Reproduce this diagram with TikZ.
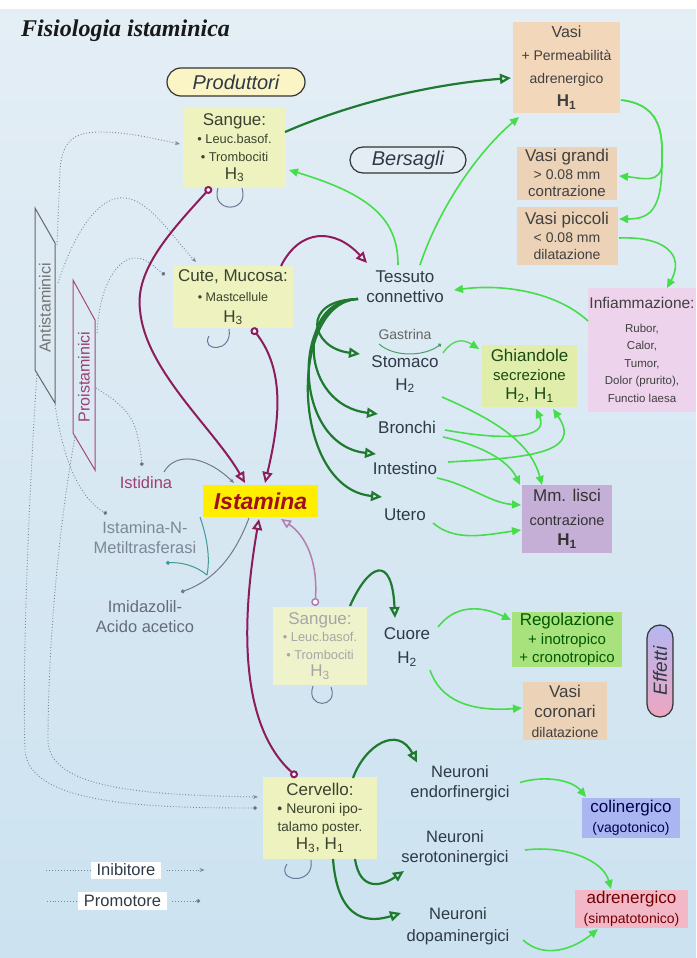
\documentclass[tikz,border=0pt]{standalone}
\usepackage{fontspec}
\setmainfont{Liberation Sans}
\newfontfamily\titlefont{Liberation Serif}
\usetikzlibrary{arrows.meta,shapes.misc,calc}
\newcommand{\myfs}[2]{\fontsize{#1}{#2}\selectfont}
\definecolor{bgtop}{HTML}{E4EEF5}
\definecolor{bgbot}{HTML}{CCE2F0}
\definecolor{boxyel}{HTML}{EDF2BE}
\definecolor{boxyelB}{HTML}{EEF3CC}
\definecolor{peach}{HTML}{F3D7BA}
\definecolor{peachB}{HTML}{ECD3B7}
\definecolor{lav}{HTML}{EDD3EC}
\definecolor{ghiyel}{HTML}{E1EEAB}
\definecolor{mmpur}{HTML}{C6AFD6}
\definecolor{regg}{HTML}{A8E27C}
\definecolor{colb}{HTML}{A9B6F2}
\definecolor{adrp}{HTML}{F2B8C7}
\definecolor{istyel}{HTML}{FFEE00}
\definecolor{istred}{HTML}{A0101C}
\definecolor{pillyel}{HTML}{FBF5C6}
\definecolor{pillbl}{HTML}{E4EDF3}
\definecolor{dkgreen}{HTML}{1F7A30}
\definecolor{ltgreen}{HTML}{45DE4A}
\definecolor{purp}{HTML}{8C1C5C}
\definecolor{purpl}{HTML}{B57CB0}
\definecolor{dotg}{HTML}{7C8898}
\definecolor{loopc}{HTML}{6A7898}
\definecolor{txtc}{HTML}{2E3A46}
\definecolor{olivec}{HTML}{3A4230}
\definecolor{tealc}{HTML}{3F9A98}
\definecolor{effb}{HTML}{B6B6F0}
\definecolor{effp}{HTML}{EEA6C0}
\begin{document}
\begin{tikzpicture}[x=1pt,y=-1pt,
  boxn/.style={align=center, inner sep=0pt},
  lbl/.style={align=center, inner sep=0pt, text=txtc},
  pill/.style={draw=black!80, line width=1.2pt, rounded rectangle, inner sep=0pt, text=txtc},
  dg/.style={draw=dkgreen, line width=2.2pt, -{Triangle[open,length=11pt,width=10pt]}},
  pu/.style={draw=purp, line width=2pt, {Circle[length=8pt,fill=white]}-{Triangle[open,length=11pt,width=10pt]}},
  lg/.style={draw=ltgreen, line width=1.6pt, -{Triangle[length=9pt,width=8pt]}},
  inib/.style={draw=dotg, line width=0.9pt, dotted, -{Stealth[length=5pt,width=4pt]}},
  prom/.style={draw=dotg, line width=0.9pt, dotted, -{Circle[length=4pt,fill=dotg!50!black]}},
  dotl/.style={draw=dotg, line width=0.9pt, dotted},
  loopst/.style={draw=loopc, line width=1pt},
  grayl/.style={draw=dotg!90!black, line width=1pt}
]
\useasboundingbox (0,0) rectangle (696,958);
\shade[top color=bgtop, bottom color=bgbot] (0,0) rectangle (696,958);
\fill[white] (0,0) rectangle (696,9);

% title
\node[anchor=base west, inner sep=0pt, font=\titlefont\bfseries\itshape\myfs{24}{26}, text=black!90] (title) at (21,37) {Fisiologia istaminica};

% pills
\node[pill, fill=pillyel, minimum width=138pt, minimum height=28pt, font=\itshape\myfs{20}{22}] (prod) at (236,82) {Produttori};
\node[pill, fill=pillbl, minimum width=116pt, minimum height=26pt, font=\itshape\myfs{20}{22}] (bers) at (408,160) {Bersagli};
\node[pill, rotate=90, minimum width=92pt, minimum height=26pt, top color=effb, bottom color=effp, font=\itshape\myfs{19}{21}] (eff) at (660,671) {Effetti};

% producer boxes
\node[boxn, fill=boxyel, minimum width=103pt, minimum height=79pt, text=olivec, font=\myfs{12.8}{18}] (sangue) at (234.5,147.5)
 {{\myfs{17}{18}Sangue:}\\ • Leuc.basof.\\ • Trombociti\\ {\myfs{17}{18}H\textsubscript{3}}};
\node[boxn, fill=boxyel, minimum width=120pt, minimum height=62pt, text=olivec, font=\myfs{12.5}{20.5}] (cute) at (233,297)
 {{\myfs{17}{18}Cute, Mucosa:}\\ • Mastcellule\\ {\myfs{17}{18}H\textsubscript{3}}};
\node[boxn, fill=boxyelB, minimum width=94pt, minimum height=78pt, text=black!35, font=\myfs{12.8}{17.5}] (sangueB) at (320,646)
 {{\myfs{17}{18}Sangue:}\\ • Leuc.basof.\\ • Trombociti\\ {\myfs{17}{18}H\textsubscript{3}}};
\node[boxn, fill=boxyel, minimum width=114pt, minimum height=82pt, text=olivec, font=\myfs{14}{18}] (cerv) at (320,818)
 {{\myfs{17}{18}Cervello:}\\ • Neuroni ipo-\\ {\myfs{13.5}{18}talamo poster.}\\ {\myfs{17}{18}H\textsubscript{3}, H\textsubscript{1}}};

% Istamina
\node[fill=istyel, minimum width=115pt, minimum height=32pt, inner sep=0pt, font=\bfseries\itshape\myfs{23}{25}, text=istred] (ist) at (260.5,501) {Istamina};

% target/effect boxes
\node[boxn, fill=peach, minimum width=107pt, minimum height=91pt, text=black!75, font=\myfs{14}{23}] (vasi) at (566.5,67.5)
 {{\myfs{16}{18}Vasi}\\ + Permeabilità\\ adrenergico\\ {\bfseries\myfs{17}{18}H\textsubscript{1}}};
\node[boxn, fill=peachB, minimum width=100pt, minimum height=53pt, text=black!75, font=\myfs{14}{17.5}] (vgr) at (567,173)
 {{\myfs{17}{18}Vasi grandi}\\ \textgreater{} 0.08 mm\\ {\myfs{15}{17}contrazione}};
\node[boxn, fill=peachB, minimum width=101pt, minimum height=58pt, text=black!75, font=\myfs{14}{17.5}] (vpi) at (567,236)
 {{\myfs{17}{18}Vasi piccoli}\\ \textless{} 0.08 mm\\ dilatazione};
\node[boxn, fill=lav, minimum width=108pt, minimum height=124pt, text=black!75, font=\myfs{11.5}{17.5}] (infl) at (642,350)
 {{\myfs{15.5}{17}Infiammazione:}\\[6pt] Rubor,\\ Calor,\\ Tumor,\\ Dolor (prurito),\\ Functio laesa};
\node[boxn, fill=ghiyel, minimum width=95pt, minimum height=62pt, text=olivec!70!green!60!black, font=\myfs{15}{19}] (ghi) at (529.5,376)
 {{\myfs{17}{18}Ghiandole}\\ secrezione\\ {\myfs{17}{18}H\textsubscript{2}, H\textsubscript{1}}};
\node[boxn, fill=mmpur, minimum width=90pt, minimum height=68pt, text=black!80, font=\myfs{14.5}{20}] (mml) at (567,519)
 {{\myfs{17}{18}Mm. lisci}\\[4pt] contrazione\\ {\bfseries\myfs{17}{18}H\textsubscript{1}}};
\node[boxn, fill=regg, minimum width=110pt, minimum height=55pt, text=green!35!black, font=\myfs{15}{18.5}] (reg) at (567,639.5)
 {{\myfs{17}{18}Regolazione}\\ + inotropico\\ + cronotropico};
\node[boxn, fill=peachB, minimum width=84pt, minimum height=58pt, text=black!75, font=\myfs{17}{20}] (vcor) at (565,711)
 {Vasi\\ coronari\\ {\myfs{14}{16}dilatazione}};
\node[boxn, fill=colb, minimum width=98pt, minimum height=40pt, text=blue!30!black, font=\myfs{14}{20}] (col) at (631,818)
 {{\myfs{17}{18}colinergico}\\ (vagotonico)};
\node[boxn, fill=adrp, minimum width=113pt, minimum height=38pt, text=red!45!black, font=\myfs{14}{20}] (adr) at (631.5,909)
 {{\myfs{17}{18}adrenergico}\\ (simpatotonico)};

% text labels
\node[lbl, font=\myfs{17}{20}] (tess) at (405,287) {Tessuto\\ connettivo};
\node[lbl, font=\myfs{14}{16}, text=black!60] (gast) at (405,334) {Gastrina};
\node[lbl, font=\myfs{17}{23}] (stom) at (405,374) {Stomaco\\ H\textsubscript{2}};
\node[lbl, font=\myfs{17}{20}] (bron) at (407,427) {Bronchi};
\node[lbl, font=\myfs{17}{20}] (inte) at (405,468) {Intestino};
\node[lbl, font=\myfs{17}{20}] (uter) at (405,515) {Utero};
\node[lbl, font=\myfs{17}{24}] (cuore) at (407,647) {Cuore\\ H\textsubscript{2}};
\node[lbl, font=\myfs{16.5}{20}] (nend) at (460,783.5) {Neuroni\\ endorfinergici};
\node[lbl, font=\myfs{16.5}{20}] (nser) at (455,848) {Neuroni\\ serotoninergici};
\node[lbl, font=\myfs{16.5}{22}] (ndop) at (458,926) {Neuroni\\ dopaminergici};
\node[lbl, font=\myfs{16.5}{20}, text=purp!85!white] (istid) at (146,483) {Istidina};
\node[lbl, font=\myfs{16.5}{20}, text=dotg] (metil) at (145,538) {Istamina-N-\\ Metiltrasferasi};
\node[lbl, font=\myfs{16.5}{20}, text=dotg!80!black] (imid) at (145,617) {Imidazolil-\\ Acido acetico};

% antistaminici / proistaminici
\draw[draw=black!60, line width=1pt] (35,208) -- (55,243) -- (55,403) -- (35,370) -- cycle;
\node[rotate=90, inner sep=0pt, text=black!55, font=\myfs{16}{18}] (anti) at (45,308) {Antistaminici};
\draw[draw=purp!80, line width=1pt] (73,280) -- (95,320) -- (95,470) -- (73,433) -- cycle;
\node[rotate=90, inner sep=0pt, text=purp!85, font=\myfs{16}{18}] (pro) at (84,377) {Proistaminici};

% legend
\node[fill=white, inner xsep=6pt, inner ysep=1pt, minimum height=17pt, text=txtc, font=\myfs{16.5}{18}] (legI) at (126,870) {Inibitore};
\node[fill=white, inner xsep=6pt, inner ysep=1pt, minimum height=18pt, text=txtc, font=\myfs{16.5}{18}] (legP) at (122.5,901) {Promotore};
\draw[dotl] ($(legI.west)+(-44,0)$) -- (legI.west);
\draw[inib] ($(legI.east)+(5,0)$) -- ($(legI.east)+(43,0)$);
\draw[dotl] ($(legP.west)+(-31,0)$) -- (legP.west);
\draw[prom] ($(legP.east)+(5,0)$) -- ($(legP.east)+(33,0)$);

% dotted regulator lines
\draw[inib] ($(anti)+(12,-63)$) -- (60,170) .. controls (62,140) and (75,132) .. (100,132) .. controls (130,132) and (160,140) .. ($(sangue)+(-54.5,-3.5)$);
\draw[inib] ($(anti)+(13,-25)$) .. controls (75,230) and (100,195) .. (125,198) .. controls (150,200) and (175,240) .. ($(cute)+(-37,-35)$);
\draw[prom] ($(pro)+(13,-44)$) .. controls (100,280) and (120,258) .. (135,258) .. controls (148,258) and (155,268) .. ($(cute)+(-68,-22)$);
\draw[prom] ($(pro)+(12,11)$) .. controls (115,400) and (130,410) .. (136,430) .. controls (140,445) and (141,455) .. ($(istid)+(-4,-17)$);
\draw[prom] ($(anti)+(10,97)$) .. controls (62,450) and (75,495) .. ($(metil)+(-38,-24)$);
\draw[inib] ($(pro)+(-9,60)$) .. controls (58,530) and (48,650) .. (48,740) .. controls (48,790) and (150,795) .. ($(cerv)+(-62,-21)$);
\draw[prom] ($(anti)+(-8,64)$) .. controls (30,480) and (22,650) .. (25,750) .. controls (28,805) and (150,808) .. ($(cerv)+(-63,-10)$);

% metabolism lines
\draw[grayl, -{Stealth[length=5pt,width=4pt]}] ($(istid)+(18,-11)$) .. controls (175,452) and (205,455) .. ($(ist)+(-26.5,-18)$);
\draw[grayl, -{Circle[length=4pt]}] ($(ist)+(-11.5,17)$) .. controls (235,555) and (215,580) .. ($(imid)+(36,-25)$);
\draw[draw=tealc, line width=1pt] ($(metil)+(55,-21)$) .. controls (208,540) and (210,560) .. ($(metil)+(62,37)$);
\draw[draw=tealc, line width=1pt, -{Circle[length=4pt]}] ($(metil)+(62,37)$) .. controls (195,565) and (180,562) .. ($(metil)+(21,25)$);
\draw[draw=loopc!70!green, line width=1pt, -{Circle[length=3.5pt]}] ($(gast)+(-26,10)$) .. controls (395,358) and (425,356) .. ($(gast)+(36,10)$);
\draw[lg, line width=1.3pt] ($(gast)+(38,19)$) .. controls (452,340) and (462,338) .. ($(ghi)+(-50.5,-27)$);

% self loops
\draw[loopst] ($(sangue)+(-16.5,40.5)$) .. controls (210,213) and (250,214) .. ($(sangue)+(7.5,40.5)$);
\draw[loopst] ($(cute)+(-4,32)$) .. controls (233,353) and (200,352) .. ($(cute)+(-24,39)$);
\draw[loopst] ($(sangueB)+(-7,40)$) .. controls (305,709) and (339,709) .. ($(sangueB)+(11,41)$);
\draw[loopst] ($(cerv)+(-9,42)$) .. controls (315,886) and (275,882) .. ($(cerv)+(-33,46)$);

% purple lines
\draw[pu] ($(sangue)+(-23.5,39.5)$) .. controls (170,232) and (135,270) .. (140,310) .. controls (145,370) and (215,430) .. ($(ist)+(-15.5,-18)$);
\draw[pu] ($(cute)+(19,31)$) .. controls (285,370) and (280,420) .. ($(ist)+(4.5,-18)$);
\draw[draw=purp, line width=2pt, -{Triangle[open,length=11pt,width=10pt]}] ($(cute)+(48,-31)$) .. controls (300,228) and (335,228) .. ($(tess)+(-38,-24)$);
\draw[pu] ($(cerv)+(-23,-41)$) .. controls (245,730) and (238,640) .. ($(ist)+(-1.5,18)$);
\draw[draw=purpl, line width=1.5pt, {Circle[length=8pt,fill=white]}-{Triangle[open,length=10pt,width=9pt]}] ($(sangueB)+(-5,-40)$) .. controls (318,560) and (305,535) .. ($(ist)+(20.5,18)$);

% dark green lines
\draw[dg] ($(sangue)+(50.5,-15.5)$) .. controls (340,108) and (420,85) .. ($(vasi)+(-55.5,10.5)$);
\draw[dg] ($(tess)+(-47,12)$) .. controls (300,300) and (310,348) .. ($(stom)+(-45,-20)$);
\draw[dg] ($(tess)+(-47,12)$) .. controls (295,300) and (300,405) .. ($(bron)+(-29,-13)$);
\draw[dg] ($(tess)+(-47,12)$) .. controls (290,302) and (292,445) .. ($(inte)+(-29,-14)$);
\draw[dg] ($(tess)+(-47,12)$) .. controls (288,302) and (290,488) .. ($(uter)+(-23,-18)$);
\draw[dg] ($(sangueB)+(30,-40)$) .. controls (368,565) and (392,552) .. ($(cuore)+(-12,-29)$);
\draw[dg] ($(cerv)+(33,-40)$) .. controls (365,745) and (398,725) .. ($(nend)+(-43,-21)$);
\draw[dg] ($(cerv)+(35,41)$) .. controls (360,892) and (382,886) .. ($(nser)+(-51,23)$);
\draw[dg] ($(cerv)+(13,41)$) .. controls (338,925) and (372,922) .. ($(ndop)+(-57,-13)$);

% light green lines
\draw[lg] ($(tess)+(-7,-22)$) .. controls (398,220) and (372,195) .. ($(sangue)+(54.5,22.5)$);
\draw[lg] ($(tess)+(15,-22)$) .. controls (440,205) and (480,150) .. ($(vasi)+(-47.5,49.5)$);
\draw[lg] ($(vasi)+(54.5,32.5)$) .. controls (665,105) and (662,140) .. (662,162) .. controls (662,185) and (642,178) .. ($(vgr)+(52,3)$);
\draw[lg] ($(vasi)+(54.5,32.5)$) .. controls (665,105) and (662,140) .. (662,162) .. controls (662,210) and (650,219) .. ($(vpi)+(52,-17)$);
\draw[lg] ($(vpi)+(52,2)$) .. controls (665,236) and (685,255) .. ($(infl)+(25,-62)$);
\draw[lg] ($(infl)+(-54,-29)$) .. controls (560,295) and (510,283) .. ($(tess)+(49,3)$);
\draw[lg] ($(stom)+(37,23)$) .. controls (490,418) and (530,440) .. ($(mml)+(-25,-34)$);
\draw[lg] ($(bron)+(38,3)$) .. controls (500,440) and (550,440) .. ($(ghi)+(6.5,33)$);
\draw[lg] ($(inte)+(43,-6)$) .. controls (520,458) and (585,455) .. ($(ghi)+(23.5,33)$);
\draw[lg] ($(bron)+(36,10)$) .. controls (480,445) and (508,460) .. ($(mml)+(-47,-34)$);
\draw[lg] ($(inte)+(32,10)$) .. controls (470,485) and (490,503) .. ($(mml)+(-46,-14)$);
\draw[lg] ($(uter)+(28,8)$) .. controls (455,542) and (485,535) .. ($(mml)+(-46,11)$);
\draw[lg] ($(cuore)+(31,-20)$) .. controls (455,605) and (480,605) .. ($(reg)+(-56,-19.5)$);
\draw[lg] ($(cuore)+(23,23)$) .. controls (440,700) and (470,712) .. ($(vcor)+(-43,-3)$);
\draw[lg] ($(nend)+(60,-1)$) .. controls (545,775) and (572,780) .. ($(col)+(-45,-21)$);
\draw[lg] ($(nser)+(70,2)$) .. controls (565,845) and (603,860) .. ($(adr)+(-20.5,-20)$);
\draw[lg] ($(ndop)+(65,14)$) .. controls (545,960) and (575,948) .. ($(adr)+(-33.5,20)$);
\end{tikzpicture}
\end{document}
